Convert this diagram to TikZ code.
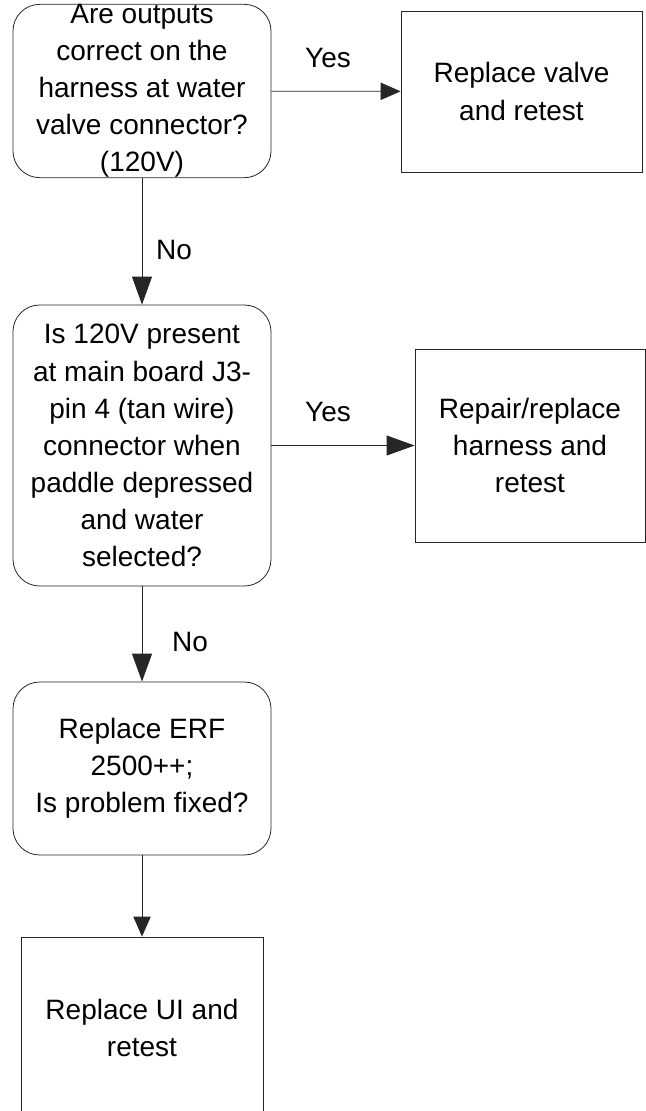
\documentclass[tikz,border=0pt]{standalone}
\usepackage{fontspec}
\setmainfont{Liberation Sans}
\usetikzlibrary{arrows.meta}

\begin{document}
\begin{tikzpicture}[x=0.75pt,y=0.75pt,yscale=-1,xscale=1,
  box/.style={draw=black!85, line width=0.6pt, inner sep=0pt, align=center, font=\fontsize{21}{27.8}\selectfont},
  decision/.style={box, rounded corners=20pt, minimum width=193.5pt},
  action/.style={box},
  lbl/.style={font=\fontsize{21}{27.8}\selectfont},
  link/.style={draw=black!85, line width=0.6pt},
  bigtip/.style={link, -{Triangle[length=21pt,width=15pt]}},
  smalltip/.style={link, -{Triangle[length=15pt,width=13pt]}}]
\useasboundingbox (0,0) rectangle (646,1111);

% Decision: outputs at valve
\node [decision, minimum height=129pt] (outputs) at (142,91) {Are outputs\\correct on the\\harness at water\\valve connector?\\(120V)};
% Action: valve
\node [action, minimum width=180.75pt, minimum height=120.75pt] (valve) at (521.5,91.5) {Replace valve\\and retest};
% Decision: 120V at main board
\node [decision, minimum height=210.75pt] (mainboard) at (142,445.5) {Is 120V present\\at main board J3-\\pin 4 (tan wire)\\connector when\\paddle depressed\\and water\\selected?};
% Action: harness
\node [action, minimum width=172.5pt, minimum height=144.75pt] (harness) at (530,445.5) {Repair/replace\\harness and\\retest};
% Decision: ERF
\node [decision, minimum height=129.75pt] (erf) at (142,768.5) {Replace ERF\\2500++;\\Is problem fixed?};
% Action: UI
\node [action, minimum width=181.5pt, minimum height=136.5pt] (ui) at (142,1028) {Replace UI and\\retest};

% Connectors
\draw [smalltip] (outputs) -- (valve);
\draw [bigtip] (outputs) -- (mainboard);
\draw [bigtip] (mainboard) -- (harness);
\draw [bigtip] (mainboard) -- (erf);
\draw [smalltip] (erf) -- (ui);

% Text Node
\node [lbl] (yes1) at (328,58) {Yes};
% Text Node
\node [lbl] (no1) at (174,250) {No};
% Text Node
\node [lbl] (yes2) at (328,412) {Yes};
% Text Node
\node [lbl] (no2) at (190,642) {No};

\end{tikzpicture}
\end{document}
